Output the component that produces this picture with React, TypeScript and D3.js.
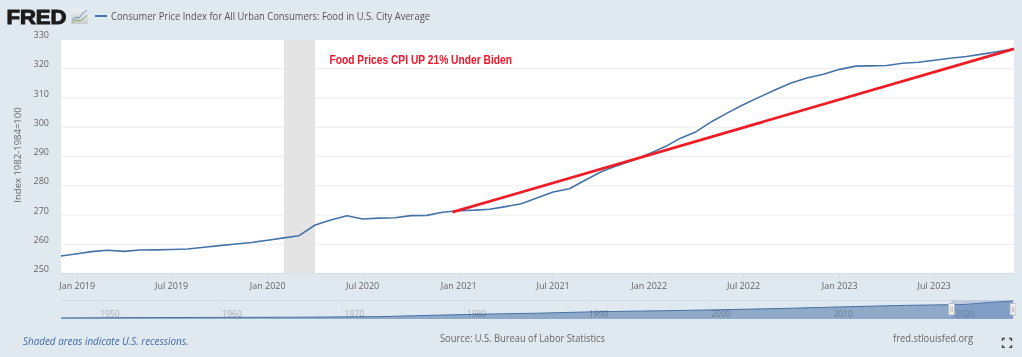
import React from "react";
import * as d3 from "d3";

const W = 1022, H = 357;
const startMonth = new Date(2018, 11, 1);
const cpiValues = [
  256.0, 256.8, 257.6, 258.0, 257.6, 258.05, 258.1, 258.25, 258.4, 259.0, 259.55, 260.1, 260.65,
  261.4, 262.2, 262.95, 266.6, 268.3, 269.8, 268.65, 268.95, 269.1, 269.8, 269.9, 270.95,
  271.5, 271.7, 272.0, 272.9, 273.9, 275.9, 277.9, 279.0, 282.0, 284.8, 286.9, 288.7,
  291.0, 293.4, 296.2, 298.5, 302.0, 305.0, 307.8, 310.4, 312.9, 315.2, 316.9, 318.1,
  319.8, 320.9, 321.0, 321.1, 321.9, 322.2, 322.9, 323.6, 324.2, 325.0, 325.9, 326.8,
];
const yTicks = [250, 260, 270, 280, 290, 300, 310, 320, 330];
const xTickDates = [
  new Date(2019, 0, 1), new Date(2019, 6, 1), new Date(2020, 0, 1), new Date(2020, 6, 1), new Date(2021, 0, 1),
  new Date(2021, 6, 1), new Date(2022, 0, 1), new Date(2022, 6, 1), new Date(2023, 0, 1), new Date(2023, 6, 1),
];
const recession = [new Date(2020, 1, 1), new Date(2020, 3, 1)];
const trendDates = [new Date(2020, 11, 20), new Date(2023, 11, 1)];
const trendValues = [271.0, 326.8];
const miniYears = [1946, 1950, 1955, 1960, 1965, 1970, 1972, 1975, 1980, 1985, 1990, 1995, 2000, 2005, 2010, 2015, 2018, 2020, 2022, 2023.9];
const miniValues = [19, 24, 27, 30, 32, 40, 42, 60, 86, 105, 133, 148, 168, 191, 220, 247, 256, 264, 300, 326];
const miniTicks = [1950, 1960, 1970, 1980, 1990, 2000, 2010, 2020];
const titleText = "Consumer Price Index for All Urban Consumers: Food in U.S. City Average";

const FONT = "'Open Sans', sans-serif";
const x = d3.scaleTime().domain([startMonth, new Date(2023, 11, 1)]).range([61, 1014]);
const y = d3.scaleLinear().domain([250, 330]).range([273.6, 39.5]);
const mx = d3.scaleLinear().domain([1946, 2023.9]).range([61, 1013]);
const my = d3.scaleLinear().domain([0, 326]).range([319, 301]);

const months = cpiValues.map((_, i) => d3.timeMonth.offset(startMonth, i));
const line = d3.line<number>().x((_, i) => x(months[i])).y((d) => y(d));
const trend = d3.line<number>().x((_, i) => x(trendDates[i])).y((d) => y(d));
const miniArea = d3.area<number>().x((_, i) => mx(miniYears[i])).y0(319).y1((d) => my(d));
const miniLine = d3.line<number>().x((_, i) => mx(miniYears[i])).y((d) => my(d));
const fmt = d3.timeFormat("%b %Y");
const HL = 951.5;

export default function App() {
  return (
    <svg width={W} height={H} viewBox={`0 0 ${W} ${H}`} style={{ position: "absolute", left: 0, top: 0, display: "block" }} fontFamily={FONT}>
      <defs>
        <linearGradient id="ico" x1="0" y1="0" x2="0" y2="1">
          <stop offset="0" stopColor="#eceeee" /><stop offset="1" stopColor="#c9cdcd" />
        </linearGradient>
        <filter id="soft" x="0" y="0" width="100%" height="100%">
          <feGaussianBlur stdDeviation="0.35" />
        </filter>
      </defs>
      <rect width={W} height={H} fill="#e1e9f0" />
      <g filter="url(#soft)">
        {/* header */}
        <text x={6.5} y={24} fontFamily="'Liberation Sans', sans-serif" fontWeight={700} fontSize={19.5} fill="#1c1c1c" stroke="#1c1c1c" strokeWidth={1} textLength={60} lengthAdjust="spacingAndGlyphs">FRED</text>
        <rect x={71} y={9.5} width={17} height={14.5} fill="url(#ico)" />
        <path d="M72 20 L76 17 L79 18 L83 13 L87 10" fill="none" stroke="#6a8fbf" strokeWidth={1} />
        <path d="M72 22.5 L76 20 L80 21 L84 18 L87 15" fill="none" stroke="#8aa860" strokeWidth={1} />
        <line x1={95} x2={107} y1={16} y2={16} stroke="#4572a7" strokeWidth={2} />
        <text x={111} y={20} fontSize={10.4} fill="#555" textLength={319} lengthAdjust="spacingAndGlyphs">{titleText}</text>

        {/* plot */}
        <rect x={61} y={40} width={953} height={233} fill="#fff" />
        {yTicks.slice(1, -1).map((t) => (
          <line key={t} x1={61} x2={1014} y1={y(t)} y2={y(t)} stroke="#f1f1f1" strokeWidth={1.4} />
        ))}
        <rect x={x(recession[0])} y={40} width={x(recession[1]) - x(recession[0])} height={233} fill="#e4e4e4" />
        <line x1={61} x2={1014} y1={273.5} y2={273.5} stroke="#d5dde8" />
        {yTicks.map((t) => (
          <text key={t} x={49} y={y(t) - 1.5} textAnchor="end" fontSize={9} fill="#666">{t}</text>
        ))}
        <text transform="translate(20.5,155) rotate(-90)" textAnchor="middle" fontSize={9.5} fill="#666">Index 1982-1984=100</text>
        {xTickDates.map((d) => (
          <g key={+d}>
            <line x1={x(d)} x2={x(d)} y1={273} y2={283} stroke="#d5dde8" />
            <text x={x(d)} y={288.5} textAnchor="middle" fontSize={9} fill="#666">{fmt(d)}</text>
          </g>
        ))}
        <path d={line(cpiValues) ?? ""} fill="none" stroke="#4572a7" strokeWidth={1.6} strokeLinejoin="round" />
        <path d={trend(trendValues) ?? ""} fill="none" stroke="#ee1c25" strokeWidth={2.7} />
        <text x={329.5} y={64} fontFamily="'Liberation Sans', sans-serif" fontWeight={700} fontSize={12.6} fill="#f0142a" textLength={182.5} lengthAdjust="spacingAndGlyphs">Food Prices CPI UP 21% Under Biden</text>

        {/* navigator */}
        <line x1={61} x2={1014} y1={300.5} y2={300.5} stroke="#d3d9de" />
        {miniTicks.map((t) => (
          <line key={t} x1={mx(t) - 12} x2={mx(t) - 12} y1={301} y2={319} stroke="#dbe3ea" />
        ))}
        <path d={miniArea(miniValues) ?? ""} fill="#8faac9" />
        <path d={miniLine(miniValues) ?? ""} fill="none" stroke="#4572a7" strokeWidth={1} />
        {miniTicks.map((t) => (
          <text key={t} x={mx(t)} y={316.5} textAnchor="middle" fontSize={8.5} fill="#000" fillOpacity={0.28}>{t}</text>
        ))}
        <rect x={HL} y={300.5} width={1013 - HL} height={18.5} fill="#6685c2" fillOpacity={0.3} />
        {[HL, 1013].map((hx) => (
          <g key={hx}>
            <rect x={hx - 3} y={303.5} width={6} height={11.5} rx={1} fill="#f2f2f2" stroke="#a9b3bd" strokeWidth={0.8} />
            <line x1={hx - 0.8} x2={hx - 0.8} y1={306.5} y2={312.5} stroke="#999" strokeWidth={0.6} />
            <line x1={hx + 0.8} x2={hx + 0.8} y1={306.5} y2={312.5} stroke="#999" strokeWidth={0.6} />
          </g>
        ))}

        {/* footer */}
        <text x={23} y={345} fontSize={10} fontStyle="italic" fill="#3e6aa8" textLength={165.5} lengthAdjust="spacingAndGlyphs">Shaded areas indicate U.S. recessions.</text>
        <text x={440} y={341.5} fontSize={10} fill="#666" textLength={165} lengthAdjust="spacingAndGlyphs">Source: U.S. Bureau of Labor Statistics</text>
        <text x={893} y={341.5} fontSize={10} fill="#666" textLength={80} lengthAdjust="spacingAndGlyphs">fred.stlouisfed.org</text>
        <path d="M1002.5 341 V338.5 H1005 M1009 338.5 H1011.5 V341 M1011.5 345 V347.5 H1009 M1005 347.5 H1002.5 V345" fill="none" stroke="#444" strokeWidth={1.4} />
      </g>
    </svg>
  );
}
